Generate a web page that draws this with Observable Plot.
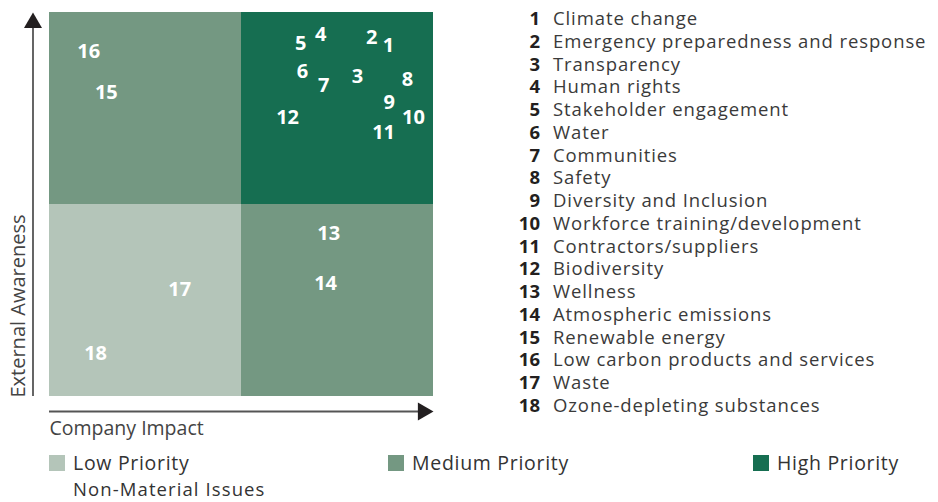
<!DOCTYPE html>
<html>
<head>
<meta charset="utf-8">
<script src="https://cdn.jsdelivr.net/npm/d3@7"></script>
<script src="https://cdn.jsdelivr.net/npm/@observablehq/plot@0.6"></script>
<style>
  html, body { margin: 0; padding: 0; background: #fff; }
  body { width: 938px; height: 502px; position: relative; overflow: hidden; font-family: "Open Sans", sans-serif; color: #333; }
  #chart { position: absolute; left: 0; top: 0; }
  #list { position: absolute; left: 500px; top: 7px; }
  .row { display: flex; align-items: center; height: 22.76px; font-size: 18.5px; line-height: 1; white-space: nowrap; letter-spacing: 0.9px; }
  .row .num { width: 40px; text-align: right; font-weight: 700; color: #231f20; letter-spacing: 0; }
  .row .lab { margin-left: 13px; color: #3a3a3a; }
  .leg { position: absolute; display: flex; align-items: center; height: 18px; font-size: 19.5px; line-height: 18px; letter-spacing: 0.7px; color: #333; white-space: nowrap; }
  .leg .sw { width: 16px; height: 16px; margin-right: 8px; }
  #note { position: absolute; left: 73px; top: 480px; height: 18px; font-size: 18.5px; line-height: 18px; letter-spacing: 1.1px; color: #333; white-space: nowrap; }
</style>
</head>
<body>
<div id="chart"></div>
<div id="list"></div>
<div id="legend"></div>
<div id="note"></div>
<script>
// Issues (number, name) and their positions on the matrix (0-100 scale)
const ids = [1, 2, 3, 4, 5, 6, 7, 8, 9, 10, 11, 12, 13, 14, 15, 16, 17, 18];
const issues = [
  "Climate change",
  "Emergency preparedness and response",
  "Transparency",
  "Human rights",
  "Stakeholder engagement",
  "Water",
  "Communities",
  "Safety",
  "Diversity and Inclusion",
  "Workforce training/development",
  "Contractors/suppliers",
  "Biodiversity",
  "Wellness",
  "Atmospheric emissions",
  "Renewable energy",
  "Low carbon products and services",
  "Waste",
  "Ozone-depleting substances"
];
const companyImpact = [88.3, 83.9, 80.2, 70.6, 65.4, 65.9, 71.4, 93.2, 88.5, 94.8, 87.0, 62.0, 72.7, 71.9, 14.8, 10.2, 33.9, 12.0];
const externalAwareness = [91.4, 93.5, 83.3, 94.3, 91.9, 84.6, 81.0, 82.6, 76.6, 72.7, 68.8, 72.7, 42.4, 29.4, 79.2, 89.8, 27.9, 11.2];

// Quadrants
const quadX1 = [0, 50, 0, 50];
const quadX2 = [50, 100, 50, 100];
const quadY1 = [50, 50, 0, 0];
const quadY2 = [100, 100, 50, 50];
const quadPriority = ["Medium Priority", "High Priority", "Low Priority", "Medium Priority"];

// Priority legend
const priorities = ["Low Priority", "Medium Priority", "High Priority"];
const priorityColors = ["#b4c5b9", "#749882", "#166e51"];
const noteText = "Non-Material Issues";

const xTitle = "Company Impact";
const yTitle = "External Awareness";

const points = ids.map((id, i) => ({id: String(id), x: companyImpact[i], y: externalAwareness[i]}));
const quads = quadX1.map((_, i) => ({x1: quadX1[i], x2: quadX2[i], y1: quadY1[i], y2: quadY2[i], p: quadPriority[i]}));

const font = "Open Sans, sans-serif";

const plot = Plot.plot({
  width: 450,
  height: 440,
  marginLeft: 49,
  marginRight: 17,
  marginTop: 12,
  marginBottom: 44,
  style: {fontFamily: font, background: "transparent", overflow: "visible"},
  x: {domain: [0, 100], axis: null},
  y: {domain: [0, 100], axis: null},
  color: {domain: priorities, range: priorityColors},
  marks: [
    Plot.rect(quads, {x1: "x1", x2: "x2", y1: "y1", y2: "y2", fill: "p"}),
    Plot.text(points, {x: "x", y: "y", text: "id", fill: "white", fontWeight: 700, fontSize: 20, fontFamily: font}),
    // y axis arrow
    Plot.ruleX([0], {y1: 0, y2: 97, dx: -16.5, stroke: "#555", strokeWidth: 1.8}),
    Plot.dot([0], {x: 0, y: 100, dx: -16.5, dy: 10.4, symbol: "triangle", r: 6.7, fill: "#231f20", stroke: null}),
    // x axis arrow
    Plot.ruleY([0], {x1: 0, x2: 97, dy: 15, stroke: "#555", strokeWidth: 1.8}),
    Plot.dot([0], {x: 100, y: 0, dx: -10.4, dy: 15, symbol: "triangle", rotate: 90, r: 6.7, fill: "#231f20", stroke: null}),
    // axis titles
    Plot.text([yTitle], {frameAnchor: "bottom-left", text: d => d, rotate: -90, textAnchor: "start", lineAnchor: "middle", dx: -31, dy: 1, fontSize: 20, fill: "#444", fontFamily: font}),
    Plot.text([xTitle], {frameAnchor: "bottom-left", text: d => d, textAnchor: "start", lineAnchor: "middle", dy: 32, fontSize: 19.5, fill: "#444", fontFamily: font})
  ]
});
document.getElementById("chart").appendChild(plot);

// Right-hand issue list
const list = document.getElementById("list");
ids.forEach((id, i) => {
  const row = document.createElement("div");
  row.className = "row";
  row.innerHTML = `<span class="num">${id}</span><span class="lab">${issues[i]}</span>`;
  list.appendChild(row);
});

// Bottom legend
const legend = document.getElementById("legend");
const legLeft = [49, 388, 753];
priorities.forEach((p, i) => {
  const el = document.createElement("div");
  el.className = "leg";
  el.style.left = legLeft[i] + "px";
  el.style.top = "454px";
  el.innerHTML = `<span class="sw" style="background:${priorityColors[i]}"></span><span>${p}</span>`;
  legend.appendChild(el);
});
document.getElementById("note").textContent = noteText;
</script>
</body>
</html>
